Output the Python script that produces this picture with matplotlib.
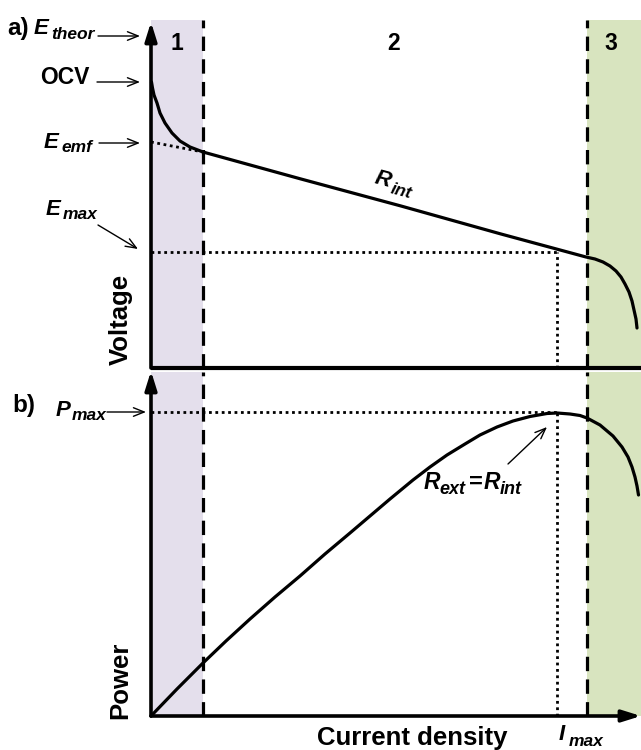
import matplotlib
matplotlib.use("Agg")
import matplotlib.pyplot as plt
from matplotlib.patches import FancyArrowPatch

# ---------------- data (arbitrary schematic units) ----------------
current_v = [0.5, 1.5, 3, 6, 9, 14, 21, 29, 39, 52, 150, 250, 350, 435,
             444, 452, 459, 465, 470, 474, 478, 481, 483, 485, 486]
voltage = [286, 280, 273, 265, 255, 245, 235, 227, 221, 216, 189, 162, 134, 111,
           109, 106, 102, 97, 91, 84, 76, 67, 58, 49, 40]

current_p = [0, 26, 52, 75, 99, 124, 149, 174, 199, 219, 239, 262, 279, 296, 314,
             329, 346, 362, 379, 396, 406, 419, 429, 436, 449, 462, 471, 477,
             481, 484, 486, 487.5]
power = [0, 27, 53, 75, 97, 119, 140, 162, 183, 200, 217, 236, 249, 261, 272,
         281, 289, 295, 299.5, 302.5, 303, 302, 300.5, 298, 291, 280, 269, 259,
         249, 239, 230, 221]

region_bounds = [52, 435.5]   # activation | ohmic | mass transport
region_labels = ["1", "2", "3"]
i_max = 406
e_emf = 226
e_max = 116
p_max = 304

W, H = 641, 750
XMAX = 490
plt.rcParams['font.family'] = ['Liberation Sans', 'DejaVu Sans']

fig = plt.figure(figsize=(W / 100, H / 100), dpi=100)

def fx(px):
    return px / W

def fy(py):
    return 1 - py / H

purple = "#e4dfec"
green = "#d8e4bf"
lw_main = 2.3

# top axes: px x 151..641, py 20..368
ax1 = fig.add_axes([fx(151), fy(368), fx(641) - fx(151), fy(20) - fy(368)])
ax1.set_xlim(0, XMAX)
ax1.set_ylim(0, 348)
# bottom axes: py 372..716
ax2 = fig.add_axes([fx(151), fy(716), fx(641) - fx(151), fy(372) - fy(716)])
ax2.set_xlim(0, XMAX)
ax2.set_ylim(0, 344)

for ax, top in ((ax1, 348), (ax2, 344)):
    ax.axis('off')
    ax.axvspan(0, region_bounds[0], color=purple, lw=0, zorder=0)
    ax.axvspan(region_bounds[1], XMAX, color=green, lw=0, zorder=0)
    for xb in region_bounds:
        ax.plot([xb, xb], [0, top], color='black', lw=2.3,
                linestyle=(0, (4.5, 2.6)), zorder=2, clip_on=False)

dot = (0, (1, 1.3))
# top panel curves
ax1.plot(current_v, voltage, color='black', lw=lw_main, zorder=3,
         solid_capstyle='round', solid_joinstyle='round', clip_on=False)
ax1.plot([0, region_bounds[0]], [e_emf, voltage[9]], color='black', lw=2.0,
         linestyle=dot, zorder=3)
ax1.plot([0, i_max], [e_max, e_max], color='black', lw=2.0,
         linestyle=dot, zorder=3)
ax1.plot([i_max, i_max], [0, e_max], color='black', lw=2.0,
         linestyle=dot, zorder=3)

# bottom panel curves
ax2.plot(current_p, power, color='black', lw=lw_main, zorder=3,
         solid_capstyle='round', solid_joinstyle='round', clip_on=False)
ax2.plot([0, i_max], [p_max, p_max], color='black', lw=2.0,
         linestyle=dot, zorder=3)
ax2.plot([i_max, i_max], [0, p_max], color='black', lw=2.0,
         linestyle=dot, zorder=3)

# axes lines
ax1.plot([0, XMAX], [0, 0], color='black', lw=3, zorder=4, clip_on=False,
         solid_capstyle='butt')
for ax, xy in ((ax1, (0, 346)), (ax2, (0, 345)), (ax2, (XMAX, 0))):
    ax.annotate('', xy=xy, xytext=(0, 0),
                arrowprops=dict(arrowstyle='-|>,head_length=0.8,head_width=0.25',
                                mutation_scale=14, lw=2.6, color='black',
                                shrinkA=0, shrinkB=0), zorder=5,
                annotation_clip=False)

# region numbers
for lab, px in zip(region_labels, [177, 394, 611]):
    fig.text(fx(px), fy(44), lab, fontsize=16.5, fontweight='bold',
             ha='center', va='center')

def txt(px, py, s, size, style='normal', **kw):
    fig.text(fx(px), fy(py), s, fontsize=size, fontweight='bold',
             style=style, ha=kw.pop('ha', 'left'), va=kw.pop('va', 'baseline'), **kw)

def arrow(p0, p1, lw=1.0):
    a = FancyArrowPatch((fx(p0[0]), fy(p0[1])), (fx(p1[0]), fy(p1[1])),
                        transform=fig.transFigure,
                        arrowstyle='->,head_length=0.55,head_width=0.22',
                        mutation_scale=14, lw=lw, color='black',
                        shrinkA=0, shrinkB=0)
    fig.add_artist(a)

BIG, SUB = 16, 12.5
# left annotations
txt(7, 35, "a)", 17.5)
txt(34, 34, "E", BIG, 'italic')
txt(51, 39, "theor", SUB, 'italic')
arrow((98, 36), (140, 36))

txt(40, 84, "OCV", 16.5)
arrow((97, 82), (140, 82))

txt(44, 148, "E", BIG, 'italic')
txt(61, 152, "emf", SUB, 'italic')
arrow((99, 143), (140, 143))

txt(46, 215, "E", BIG, 'italic')
txt(63, 219, "max", SUB, 'italic')
arrow((98, 225), (138, 249))

txt(12, 412, "b)", 17.5)
txt(56, 416, "P", BIG, 'italic')
txt(72, 420, "max", SUB, 'italic')
arrow((107, 412), (146, 412))

# R_int along the ohmic line
fig.text(fx(374), fy(183), "R", fontsize=BIG, fontweight='bold', style='italic',
         rotation=-15, rotation_mode='anchor', ha='left', va='baseline')
fig.text(fx(390), fy(193), "int", fontsize=SUB, fontweight='bold', style='italic',
         rotation=-15, rotation_mode='anchor', ha='left', va='baseline')

# R_ext = R_int
txt(424, 489, "R", 16.5, 'italic')
txt(439, 494, "ext", 13, 'italic')
txt(469, 489, "=", 17)
txt(484, 489, "R", 16.5, 'italic')
txt(500, 494, "int", 13, 'italic')
arrow((508, 464), (547, 427))

# axis titles
fig.text(fx(121), fy(319), "Voltage", fontsize=18.5, fontweight='bold',
         rotation=90, ha='center', va='center')
fig.text(fx(120), fy(680), "Power", fontsize=18.5, fontweight='bold',
         rotation=90, ha='center', va='center')
fig.text(fx(412), fy(745), "Current density", fontsize=18.5, fontweight='bold',
         ha='center', va='baseline')
txt(559, 740, "I", BIG, 'italic')
txt(569, 746, "max", SUB, 'italic')

fig.savefig("out.png", dpi=100)
